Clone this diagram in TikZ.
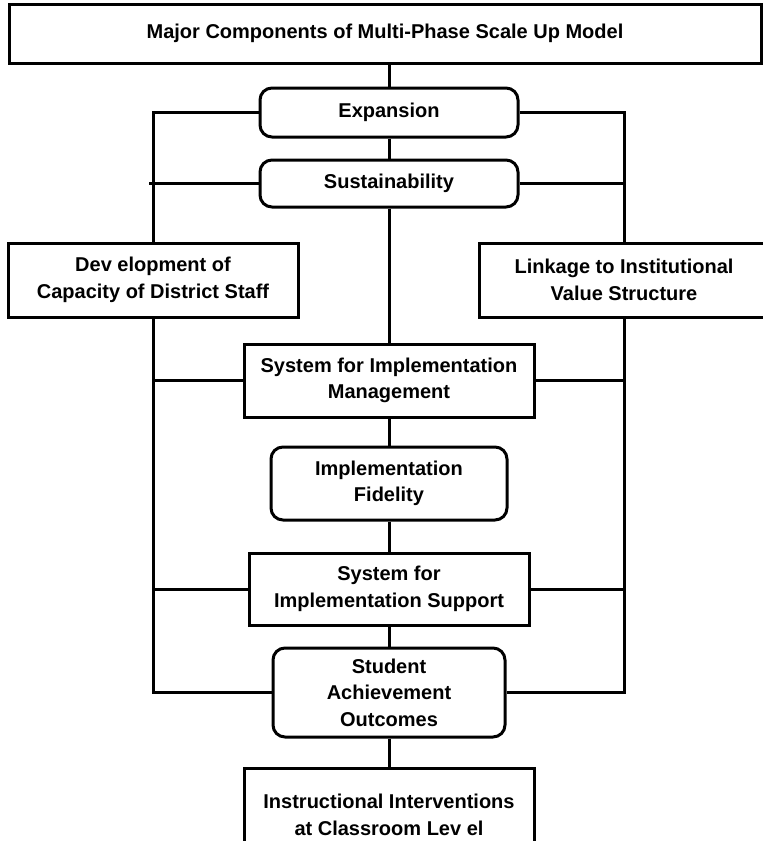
\documentclass[tikz,border=0pt]{standalone}
\usepackage{fontspec}
\setmainfont{Liberation Sans}
\usetikzlibrary{positioning}

\begin{document}
\begin{tikzpicture}[
        x=1pt, y=-1pt,
        line width=3pt,
        node distance=20pt,
        box/.style={rectangle, draw, align=center, inner sep=2pt,
                    font=\bfseries\fontsize{20}{26.5}\selectfont},
        phase/.style={box, rounded corners=12pt},
        side/.style={box, minimum width=290pt, minimum height=74pt},
    ]
        \useasboundingbox (0,0) rectangle (763,841);
        \clip (0,0) rectangle (763,841);

        \node[box, minimum width=752pt, minimum height=59pt] (model) at (385,33.5) {Major Components of Multi-Phase Scale Up Model};
        \node[phase, minimum width=258pt, minimum height=49pt] (expansion) at (389,112.5) {Expansion};
        \node[phase, minimum width=258pt, minimum height=47pt, below=20pt of expansion] (sustain) {Sustainability};
        \node[box, minimum width=290pt, minimum height=73pt, below=134pt of sustain] (mgmt) {System for Implementation\\Management};
        \node[phase, minimum width=236pt, minimum height=73pt, below=27pt of mgmt] (fidelity) {Implementation\\Fidelity};
        \node[box, minimum width=280pt, minimum height=72pt, below=30pt of fidelity] (support) {System for\\Implementation Support};
        \node[phase, minimum width=232pt, minimum height=89pt, below=20pt of support] (outcomes) {Student\\Achievement\\Outcomes};
        \node[box, minimum width=290pt, minimum height=94pt, below=28pt of outcomes] (instruct) {Instructional Interventions\\at Classroom Lev el};

        \node[side] (capacity) at (153,280) {Dev elopment of\\Capacity of District Staff};
        \node[side] (values) at (624,280) {Linkage to Institutional\\Value Structure};

        \draw (expansion.north |- model.south) -- (expansion.north);
        \draw (expansion) -- (sustain);
        \draw (sustain) -- (mgmt);
        \draw (mgmt) -- (fidelity);
        \draw (fidelity) -- (support);
        \draw (support) -- (outcomes);
        \draw (outcomes) -- (instruct);

        \draw (expansion.west) -| (capacity.north);
        \draw (expansion.east) -| (values.north);
        \draw (sustain.west) -- ([xshift=-4pt]sustain.west -| capacity.north);
        \draw (sustain.east) -- ([xshift=2pt]sustain.east -| values.north);
        \draw (capacity.south) |- (outcomes.west);
        \draw (values.south) |- (outcomes.east);
        \draw (mgmt.west) -- (mgmt.west -| capacity.south);
        \draw (mgmt.east) -- (mgmt.east -| values.south);
        \draw (support.west) -- (support.west -| capacity.south);
        \draw (support.east) -- (support.east -| values.south);
    \end{tikzpicture}
\end{document}
